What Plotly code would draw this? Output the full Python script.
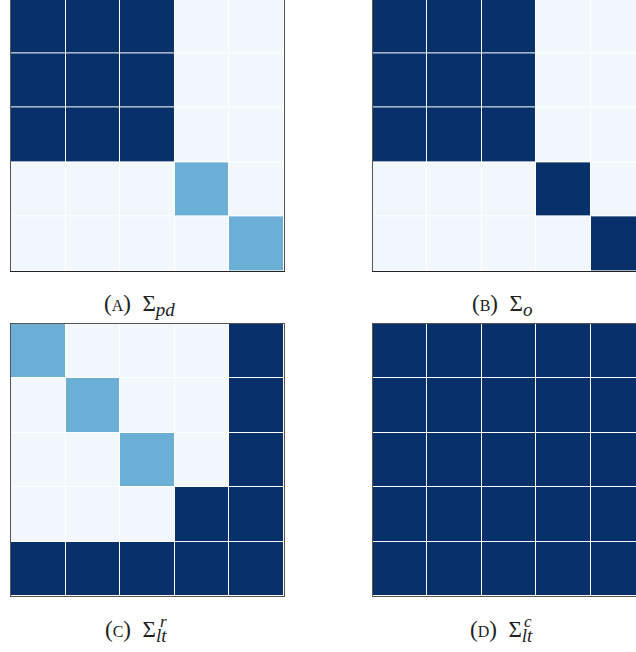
import plotly.graph_objects as go

# covariance structure matrices (5x5), values
sigma_pd = [
    [1, 1, 1, 0.03, 0.03],
    [1, 1, 1, 0.03, 0.03],
    [1, 1, 1, 0.03, 0.03],
    [0.03, 0.03, 0.03, 0.5, 0.03],
    [0.03, 0.03, 0.03, 0.03, 0.5],
]
sigma_o = [
    [1, 1, 1, 0.03, 0.03],
    [1, 1, 1, 0.03, 0.03],
    [1, 1, 1, 0.03, 0.03],
    [0.03, 0.03, 0.03, 1, 0.03],
    [0.03, 0.03, 0.03, 0.03, 1],
]
sigma_lt_r = [
    [0.5, 0.03, 0.03, 0.03, 1],
    [0.03, 0.5, 0.03, 0.03, 1],
    [0.03, 0.03, 0.5, 0.03, 1],
    [0.03, 0.03, 0.03, 1, 1],
    [1, 1, 1, 1, 1],
]
sigma_lt_c = [
    [1, 1, 1, 1, 1],
    [1, 1, 1, 1, 1],
    [1, 1, 1, 1, 1],
    [1, 1, 1, 1, 1],
    [1, 1, 1, 1, 1],
]

W, H = 636, 652
SERIF = "Liberation Serif"


def fx(px):
    return px / W


def fy(py):
    return 1 - py / H


# (matrix, x-domain px, y-domain px, x range, y range, full frame?)
panels = [
    (sigma_pd, (11, 284), (0, 271), [-0.5, 4.5], [4.5, -0.47], False),
    (sigma_o, (373, 636), (0, 271), [-0.5, 4.33], [4.5, -0.47], False),
    (sigma_lt_r, (11, 284), (324, 596), [-0.5, 4.5], [4.5, -0.5], True),
    (sigma_lt_c, (373, 636), (324, 596), [-0.5, 4.33], [4.5, -0.5], True),
]

fig = go.Figure()
layout = {}
for i, (z, (x0, x1), (y0, y1), xr, yr, full) in enumerate(panels, start=1):
    sfx = "" if i == 1 else str(i)
    fig.add_trace(go.Heatmap(
        z=z, x=list(range(5)), y=list(range(5)),
        colorscale="Blues", zmin=0, zmax=1, showscale=False,
        xgap=1, ygap=1,
        xaxis="x" + sfx, yaxis="y" + sfx,
        hoverinfo="skip",
    ))
    layout["xaxis" + sfx] = dict(
        domain=[fx(x0), fx(x1)], range=xr, anchor="y" + sfx,
        showticklabels=False, ticks="", showgrid=False, zeroline=False,
        showline=True, linecolor="#222" if not full else "#555", linewidth=1,
        mirror=full,
    )
    layout["yaxis" + sfx] = dict(
        domain=[fy(y1), fy(y0)], range=yr, anchor="x" + sfx,
        showticklabels=False, ticks="", showgrid=False, zeroline=False,
        showline=True, linecolor="#555", linewidth=1, mirror=True,
    )

fig.update_layout(**layout)


def sc(letter):
    return "(<span style='font-size:16px'>%s</span>)" % letter


def sub(s):
    return "<sub><span style='font-size:19px'><i>%s</i></span></sub>" % s


# captions: left edge x, centre y, text
captions = [
    (102, 305, sc("A") + "  Σ" + sub("pd")),
    (470, 305, sc("B") + "  Σ" + sub("o")),
    (103, 631, sc("C") + "  Σ" + sub("lt")),
    (468, 631, sc("D") + "  Σ" + sub("lt")),
]
annotations = []
for lx, cy, txt in captions:
    annotations.append(dict(
        x=fx(lx), y=fy(cy), xref="paper", yref="paper",
        text=txt, showarrow=False, xanchor="left", yanchor="middle",
        font=dict(family=SERIF, size=23, color="#222"),
    ))
# superscripts stacked over the subscripts
for lx, cy, s in [(158, 621, "r"), (522, 621, "c")]:
    annotations.append(dict(
        x=fx(lx), y=fy(cy), xref="paper", yref="paper",
        text="<i>%s</i>" % s, showarrow=False, xanchor="left", yanchor="middle",
        font=dict(family=SERIF, size=17, color="#222"),
    ))

fig.update_layout(
    width=W, height=H,
    margin=dict(l=0, r=0, t=0, b=0),
    paper_bgcolor="white", plot_bgcolor="white",
    annotations=annotations,
    showlegend=False,
)

fig.write_html(
    "out.html",
    config={"displayModeBar": False},
    post_script="document.body.style.margin='0';document.body.style.overflow='hidden';",
)
